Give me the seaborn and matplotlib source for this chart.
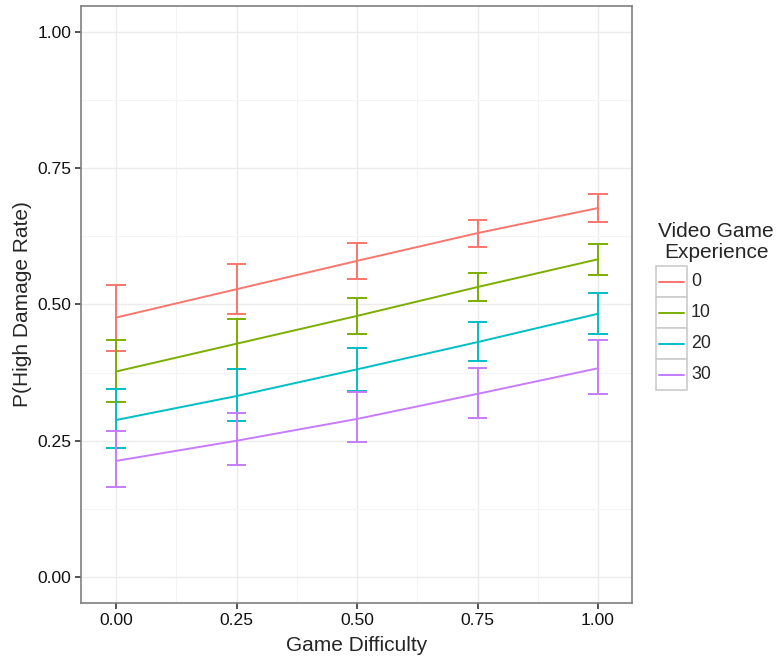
import numpy as np
import pandas as pd
import matplotlib
matplotlib.use("Agg")
import matplotlib.pyplot as plt
import seaborn as sns
from matplotlib.patches import Rectangle
from matplotlib.lines import Line2D

# --- DATA ---
difficulty = [0.00, 0.25, 0.50, 0.75, 1.00]
experience = ["0", "10", "20", "30"]

p_exp0 = [0.476, 0.528, 0.580, 0.631, 0.677]
p_exp10 = [0.377, 0.428, 0.479, 0.532, 0.583]
p_exp20 = [0.288, 0.332, 0.381, 0.431, 0.483]
p_exp30 = [0.213, 0.250, 0.290, 0.336, 0.383]

lo_exp0 = [0.415, 0.482, 0.546, 0.605, 0.651]
lo_exp10 = [0.322, 0.382, 0.446, 0.506, 0.555]
lo_exp20 = [0.237, 0.287, 0.341, 0.396, 0.445]
lo_exp30 = [0.166, 0.205, 0.248, 0.292, 0.335]

hi_exp0 = [0.536, 0.574, 0.612, 0.655, 0.702]
hi_exp10 = [0.435, 0.474, 0.512, 0.558, 0.611]
hi_exp20 = [0.345, 0.382, 0.421, 0.468, 0.521]
hi_exp30 = [0.267, 0.301, 0.339, 0.384, 0.435]

COLORS = ["#F8766D", "#7CAE00", "#00BFC4", "#C77CFF"]

rows = []
for grp, p, lo, hi in zip(experience,
                          [p_exp0, p_exp10, p_exp20, p_exp30],
                          [lo_exp0, lo_exp10, lo_exp20, lo_exp30],
                          [hi_exp0, hi_exp10, hi_exp20, hi_exp30]):
    for x, v, l, h in zip(difficulty, p, lo, hi):
        rows.append({"difficulty": x, "exp": grp, "p": v, "lo": l, "hi": h})
df = pd.DataFrame(rows)

sns.set_theme(style="white")
plt.rcParams["font.family"] = ["Liberation Sans", "DejaVu Sans"]

fig = plt.figure(figsize=(7.78, 6.59), dpi=100)
ax = fig.add_axes([81 / 778, 1 - 603 / 659, (632 - 81) / 778, (603 - 5.5) / 659])

palette = dict(zip(experience, COLORS))
sns.lineplot(data=df, x="difficulty", y="p", hue="exp", palette=palette,
             hue_order=experience, linewidth=1.4, legend=False, ax=ax, zorder=3)

# error bars
cap = 0.02
for grp in experience:
    d = df[df["exp"] == grp]
    c = palette[grp]
    ax.vlines(d["difficulty"], d["lo"], d["hi"], color=c, lw=1.4, zorder=3)
    ax.hlines(d["lo"], d["difficulty"] - cap, d["difficulty"] + cap, color=c, lw=1.4, zorder=3)
    ax.hlines(d["hi"], d["difficulty"] - cap, d["difficulty"] + cap, color=c, lw=1.4, zorder=3)

ax.set_xlim(-0.0726, 1.0705)
ax.set_ylim(-0.0477, 1.0486)
ticks = [0, 0.25, 0.5, 0.75, 1.0]
ax.set_xticks(ticks)
ax.set_yticks(ticks)
ax.set_xticklabels(["%.2f" % t for t in ticks])
ax.set_yticklabels(["%.2f" % t for t in ticks])
ax.set_xticks([0.125, 0.375, 0.625, 0.875], minor=True)
ax.set_yticks([0.125, 0.375, 0.625, 0.875], minor=True)

ax.grid(True, which="major", color="#EBEBEB", lw=1.0, zorder=0)
ax.grid(True, which="minor", color="#F4F4F4", lw=0.8, zorder=0)
ax.set_axisbelow(True)
for s in ax.spines.values():
    s.set_color("#7F7F7F")
    s.set_linewidth(1.2)

ax.tick_params(axis="both", which="major", length=4, width=1.2, color="#333333",
               labelsize=12.6, labelcolor="#111111", pad=3, bottom=True, left=True)
ax.tick_params(axis="both", which="minor", length=0)

ax.set_xlabel("Game Difficulty", fontsize=15, labelpad=6)
ax.set_ylabel("P(High Damage Rate)", fontsize=15, labelpad=4)

# legend drawn with keys in boxes, ggplot style
W, H = 778, 659
def fx(px):
    return px / W
def fy(py):
    return 1 - py / H

fig.text(fx(716), fy(231), "Video Game", ha="center", va="center", fontsize=15)
fig.text(fx(716), fy(252), "Experience", ha="center", va="center", fontsize=15)
key_top = 266
key_h = 31
for i, grp in enumerate(experience):
    top = key_top + i * key_h
    fig.add_artist(Rectangle((fx(656), fy(top + key_h)), fx(687) - fx(656),
                             fy(top) - fy(top + key_h), facecolor="white",
                             edgecolor="#CCCCCC", lw=1.2, transform=fig.transFigure))
    yc = fy(top + key_h / 2)
    fig.add_artist(Line2D([fx(659), fx(684)], [yc, yc], color=palette[grp], lw=1.4,
                          transform=fig.transFigure))
    fig.text(fx(691), yc, grp, ha="left", va="center", fontsize=12.8)

fig.savefig("out.png", dpi=100)
